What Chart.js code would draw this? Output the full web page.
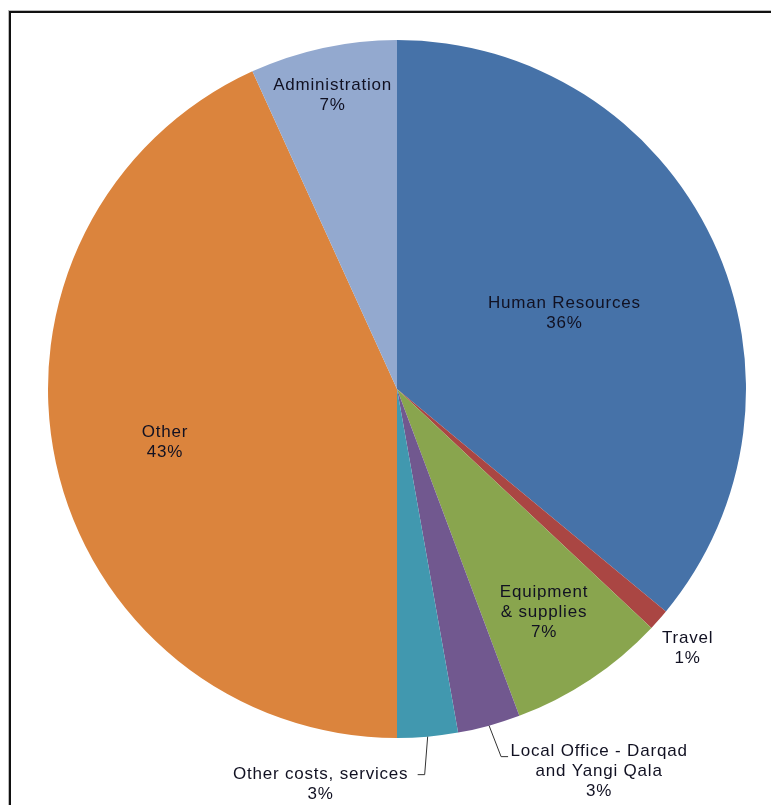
<!DOCTYPE html>
<html>
<head>
<meta charset="utf-8">
<script src="https://cdn.jsdelivr.net/npm/chart.js@4"></script>
<style>
  html, body { margin: 0; padding: 0; background: #fff; overflow: hidden; }
  #frame {
    position: absolute; left: 9px; top: 11px; width: 900px; height: 900px;
    border-left: 2px solid #111; border-top: 2px solid #111;
    box-shadow: -1px -1px 0 #bbb;
  }
  #budgetChart { position: absolute; left: 0; top: 0; }
</style>
</head>
<body>
<div id="frame"></div>
<canvas id="budgetChart" width="771" height="805"></canvas>
<script>
// budget shares, clockwise from 12 o'clock
const categories = [
    'Human Resources',
    'Travel',
    'Equipment & supplies',
    'Local Office - Darqad and Yangi Qala',
    'Other costs, services',
    'Other',
    'Administration'
];
const shares = [36.0, 1.0, 7.3, 2.9, 2.8, 43.2, 6.8];
const labelLines = [
    ['Human Resources'],
    ['Travel'],
    ['Equipment', '& supplies'],
    ['Local Office - Darqad', 'and Yangi Qala'],
    ['Other costs, services'],
    ['Other'],
    ['Administration']
];
const sliceColors = ['#4672a8', '#aa4643', '#89a54e', '#71588f', '#4198af', '#db843d', '#93a9cf'];

// where each label sits: fraction of the radius along the slice middle, or a leader line
const labelPlacement = [
    { f: 0.53 },
    { f: 1.11 },
    { f: 0.76 },
    { leader: [12, 31, 7], text: [91, -5] },
    { leader: [-3, 38, -7], text: [-97, 0] },
    { f: 0.68 },
    { f: 0.87 }
];

const sliceLabels = {
    id: 'sliceLabels',
    afterDatasetsDraw(chart) {
        const ctx = chart.ctx;
        const total = shares.reduce((a, b) => a + b, 0);
        const lineH = 20;
        ctx.save();
        ctx.font = '17px "Liberation Sans", Arial, sans-serif';
        ctx.letterSpacing = '0.8px';
        ctx.fillStyle = '#111122';
        ctx.textAlign = 'center';
        ctx.textBaseline = 'middle';
        chart.getDatasetMeta(0).data.forEach((arc, i) => {
            const p = arc.getProps(['x', 'y', 'startAngle', 'endAngle', 'outerRadius'], true);
            const mid = (p.startAngle + p.endAngle) / 2;
            const lines = labelLines[i].concat([Math.round(shares[i] / total * 100) + '%']);
            const place = labelPlacement[i];
            let cx, top;
            if (place.leader) {
                const ex = p.x + Math.cos(mid) * p.outerRadius;
                const ey = p.y + Math.sin(mid) * p.outerRadius;
                const bx = ex + place.leader[0], by = ey + place.leader[1];
                const tx = bx + place.leader[2];
                ctx.strokeStyle = '#333';
                ctx.lineWidth = 1;
                ctx.beginPath();
                ctx.moveTo(ex, ey);
                ctx.lineTo(bx, by);
                ctx.lineTo(tx, by);
                ctx.stroke();
                cx = tx + place.text[0];
                top = by + place.text[1];
            } else {
                cx = p.x + Math.cos(mid) * place.f * p.outerRadius;
                const cy = p.y + Math.sin(mid) * place.f * p.outerRadius;
                top = cy - (lines.length - 1) * lineH / 2 + 3;
            }
            lines.forEach((t, k) => ctx.fillText(t, cx, top + k * lineH));
        });
        ctx.restore();
    }
};

new Chart(document.getElementById('budgetChart'), {
    type: 'pie',
    data: {
        labels: categories,
        datasets: [{
            data: shares,
            backgroundColor: sliceColors,
            borderWidth: 0
        }]
    },
    options: {
        responsive: false,
        animation: false,
        layout: { padding: { left: 48, right: 25, top: 40, bottom: 67 } },
        plugins: {
            legend: { display: false },
            tooltip: { enabled: false }
        }
    },
    plugins: [sliceLabels]
});
</script>
</body>
</html>
